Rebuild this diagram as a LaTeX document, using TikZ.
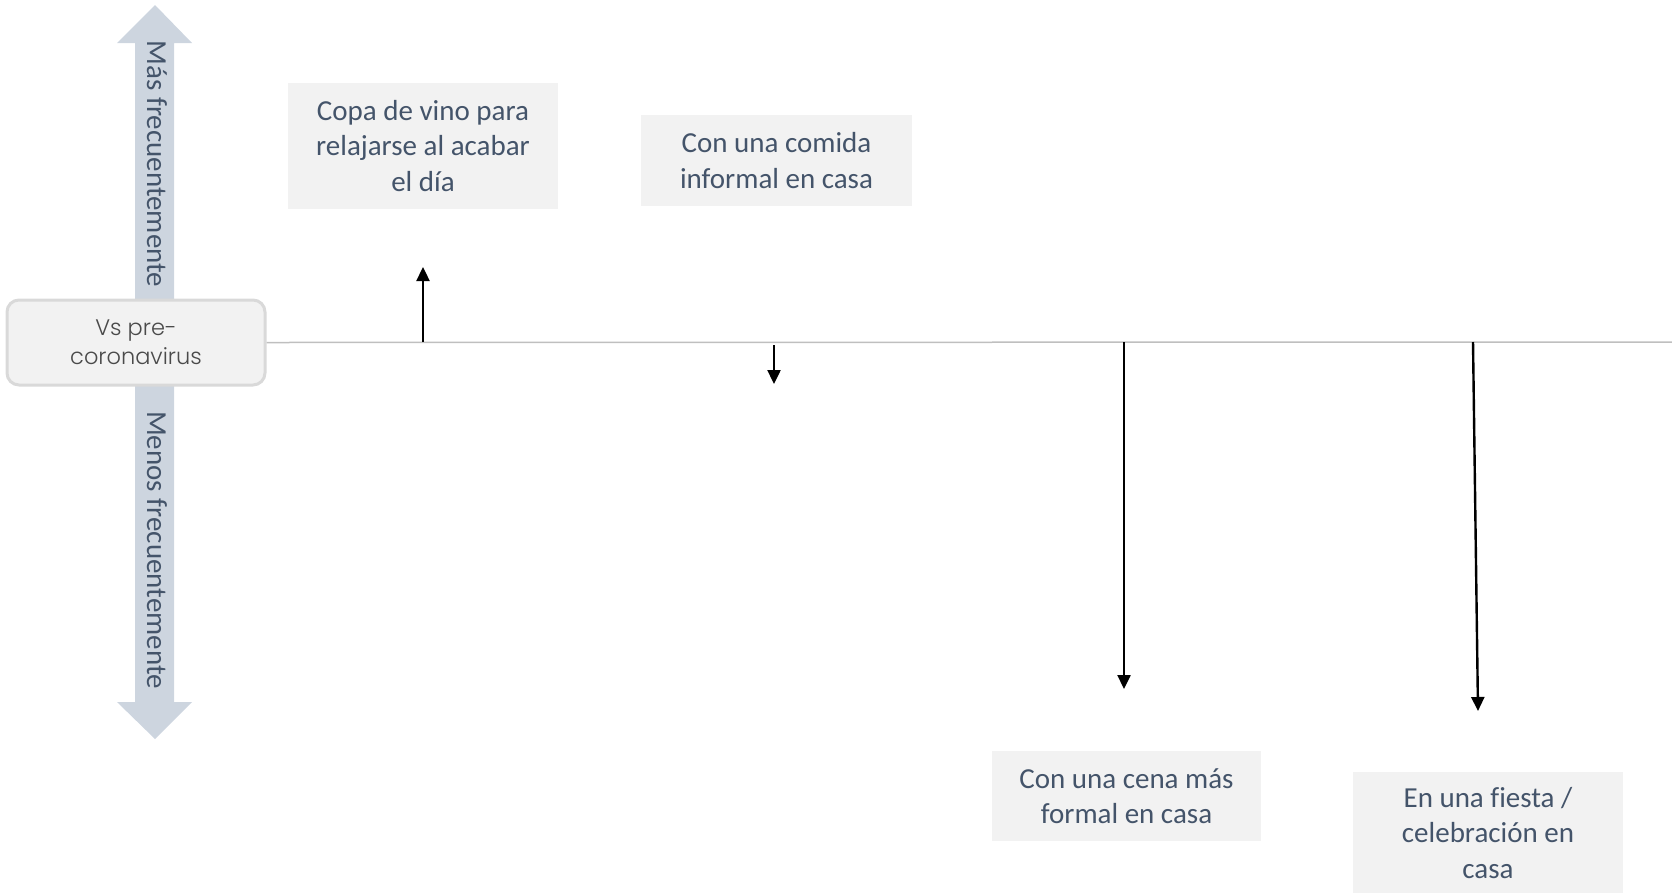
\documentclass[tikz,border=0pt]{standalone}
\usepackage{fontspec}
\setmainfont{Carlito}[Ligatures=CommonOff]
\newfontfamily\gothic{Poppins}[UprightFont={* Light}]
\usetikzlibrary{arrows.meta}
\definecolor{slate}{HTML}{44546A}
\definecolor{boxfill}{HTML}{F2F2F2}
\definecolor{axisfill}{HTML}{CDD5DF}
\definecolor{axisline}{HTML}{BFBFBF}
\definecolor{framegray}{HTML}{D9D9D9}
\definecolor{vsgray}{HTML}{4A4A4A}
\begin{document}
\begin{tikzpicture}[x=1pt,y=-1pt,
  labelbox/.style={fill=boxfill, text=slate, align=center, inner sep=0pt,
    font=\fontsize{29}{35.2}\selectfont},
  axistext/.style={text=slate, rotate=-90, inner sep=0pt,
    font=\fontsize{29}{35}\selectfont},
  change/.style={line width=2.4pt, -{Triangle[width=13pt,length=14pt]}}]
\useasboundingbox (0,0) rectangle (1672,892);

% vertical double arrow: more / less frequently
\fill[axisfill] (135,43) -- (117,43) -- (155,5) -- (192,43) -- (174,43)
  -- (174,702) -- (192,702) -- (155,739) -- (117,702) -- (135,702) -- cycle;
\node[axistext] (mas) at (157,164) {Más frecuentemente};
\node[axistext] (menos) at (157,550) {Menos frecuentemente};

% reference box and baseline
\node[draw=framegray, line width=3pt, fill=boxfill, rounded corners=12pt,
  minimum width=258pt, minimum height=85pt, align=center, text=vsgray,
  font=\gothic\fontsize{22.5}{29}\selectfont] (vs) at (136,342.5)
  {Vs pre-\\coronavirus};
\coordinate (lineend) at (1672,342);
\draw[axisline, line width=1.5pt] (vs.east) -- (lineend);

% occasions
\node[labelbox, minimum width=270pt, minimum height=126pt] (copa) at (423,146)
  {Copa de vino para\\relajarse al acabar\\el día};
\node[labelbox, minimum width=271pt, minimum height=91pt] (comida) at (776.5,160.5)
  {Con una comida\\informal en casa};
\node[labelbox, minimum width=269pt, minimum height=90pt] (cena) at (1126.5,796)
  {Con una cena más\\formal en casa};
\node[labelbox, minimum width=270pt, minimum height=122pt] (fiesta) at (1488,833)
  {En una fiesta /\\celebración en\\casa};

% changes versus the baseline
\coordinate (b1) at (423,342);
\coordinate (t1) at (423,267);
\coordinate (b2) at (774,345);
\coordinate (t2) at (774,384);
\coordinate (b3) at (1124,342);
\coordinate (t3) at (1124,689);
\coordinate (b4) at (1473,342);
\coordinate (t4) at (1478,711);
\draw[change] (b1) -- (t1);
\draw[change] (b2) -- (t2);
\draw[change] (b3) -- (t3);
\draw[change] (b4) -- (t4);
\end{tikzpicture}
\end{document}
